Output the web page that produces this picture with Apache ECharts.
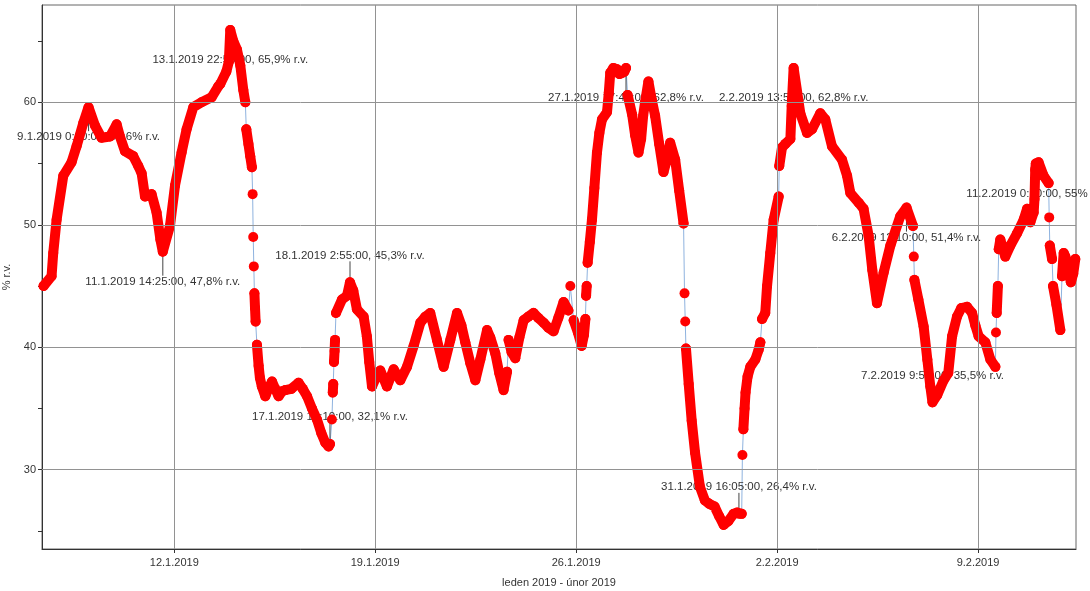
<!DOCTYPE html>
<html>
<head>
<meta charset="utf-8">
<title>Relativní vlhkost</title>
<script src="https://cdn.jsdelivr.net/npm/echarts@6/dist/echarts.min.js"></script>
<style>
  html, body { margin: 0; padding: 0; background: #fff; }
  #chart { width: 1090px; height: 591px; }
</style>
</head>
<body>
<div id="chart"></div>
<script>
// x hodnoty = hodiny od 12.1.2019 0:00
const xMin = -110.6;
const xMax = 753.9;
const yMin = 23.53;
const yMax = 67.94;

const xTickHours = [0, 168, 336, 504, 672];
const xTickLabels = ['12.1.2019', '19.1.2019', '26.1.2019', '2.2.2019', '9.2.2019'];
const yTickValues = [25, 30, 35, 40, 45, 50, 55, 60, 65];
const yLabelValues = [30, 40, 50, 60];

// souvislé úseky měření [hodina, % r.v.]
const segments = [
  [[-109.3, 45.0], [-102.6, 45.8], [-101.2, 47.7], [-98.4, 50.4], [-92.8, 54.0], [-85.9, 55.1], [-81.7, 56.4],
   [-76.1, 58.3], [-71.7, 59.6], [-66.3, 58.1], [-60.8, 57.1], [-53.8, 57.2], [-48.2, 58.2], [-45.4, 57.2],
   [-41.2, 56.0], [-34.3, 55.6], [-30.1, 54.8], [-27.3, 54.2], [-24.5, 52.3], [-19.0, 52.5], [-14.8, 51.0],
   [-11.6, 48.8], [-9.6, 47.8], [-3.6, 49.9], [0.6, 53.2], [6.1, 55.9], [10.3, 57.8], [15.9, 59.6],
   [22.8, 60.0], [31.2, 60.4], [36.8, 61.3], [38.5, 61.5], [43.5, 62.5], [45.6, 63.3], [46.8, 65.9],
   [49.3, 65.0], [52.4, 64.3], [55.2, 63.0], [57.7, 61.0], [59.4, 60.0]],
  [[60.2, 57.8], [62.0, 56.6], [63.5, 55.6], [64.9, 54.7]],
  [[65.5, 52.5]],
  [[66.0, 49.0]],
  [[66.5, 46.6]],
  [[67.0, 44.4], [67.5, 43.2], [68.0, 42.1]],
  [[69.1, 40.2], [70.5, 38.5], [71.6, 37.5], [73.2, 36.8], [76.1, 36.0], [78.6, 36.6], [81.7, 37.2],
   [84.4, 36.6], [87.2, 36.0], [90.1, 36.4], [92.8, 36.5], [97.8, 36.6], [103.9, 37.1], [107.4, 36.6],
   [111.0, 36.0], [115.1, 35.0], [119.3, 34.1], [122.9, 33.0], [126.3, 32.2], [129.0, 31.9], [130.2, 32.1]],
  [[131.8, 34.1]],
  [[132.5, 36.3], [132.9, 37.0]],
  [[133.5, 38.8], [134.0, 39.7], [134.4, 40.6]],
  [[135.2, 42.8], [140.2, 43.9], [144.4, 44.2], [146.9, 45.3], [149.7, 44.6], [152.7, 43.1], [158.3, 42.5],
   [161.0, 40.9], [163.0, 38.8], [165.3, 36.8], [168.9, 37.6], [172.2, 38.1], [177.8, 36.8], [183.4, 38.2],
   [189.0, 37.3], [194.6, 38.4], [200.1, 40.1], [205.7, 42.0], [209.9, 42.5], [214.0, 42.8], [219.6, 40.6],
   [225.2, 38.4], [230.8, 40.6], [236.4, 42.8], [240.0, 41.8], [243.3, 40.4], [247.5, 38.7], [251.7, 37.3],
   [255.9, 39.0], [261.5, 41.4], [264.2, 40.8], [268.4, 39.5], [271.7, 37.9], [275.3, 36.5], [278.2, 38.0]],
  [[279.5, 40.6], [282.0, 39.6], [285.1, 39.1], [288.5, 40.8], [292.1, 42.2], [296.0, 42.5], [300.4, 42.8],
   [304.3, 42.4], [308.8, 42.0], [312.7, 41.6], [317.1, 41.3], [321.1, 42.4], [325.5, 43.7], [329.5, 43.0]],
  [[331.1, 45.0]],
  [[333.9, 42.2], [337.5, 41.2], [340.6, 40.1], [342.5, 41.0], [343.7, 42.3]],
  [[344.3, 44.2], [344.8, 45.0]],
  [[345.6, 46.9], [347.4, 48.6], [349.2, 50.4], [351.2, 53.0], [353.4, 55.9], [355.4, 57.5], [357.6, 58.6],
   [361.8, 59.2], [363.3, 60.8], [364.5, 62.4], [367.1, 62.8], [370.2, 62.7], [372.1, 62.3], [374.4, 62.4],
   [376.3, 62.5], [377.7, 62.8]],
  [[379.0, 60.6], [382.8, 59.0], [385.3, 57.3], [388.1, 55.9], [390.3, 57.0], [392.0, 58.9], [393.6, 60.0],
   [396.4, 61.7], [399.2, 60.2], [402.0, 58.9], [405.4, 56.6], [409.0, 54.3], [411.8, 55.3], [414.6, 56.7],
   [418.8, 55.3], [422.1, 52.8], [425.8, 50.1]],
  [[426.6, 44.4]],
  [[427.2, 42.1]],
  [[427.8, 39.9], [430.1, 37.0], [432.6, 34.0], [435.4, 31.4], [439.5, 28.6], [443.6, 27.5], [447.5, 27.2],
   [451.7, 27.0], [455.6, 26.2], [459.3, 25.5], [463.2, 25.8], [467.6, 26.4], [470.5, 26.5], [472.1, 26.4],
   [474.4, 26.4]],
  [[475.0, 31.2]],
  [[475.8, 33.3], [476.8, 35.0], [477.6, 36.3], [479.3, 37.6], [481.6, 38.4], [485.8, 39.0], [488.6, 39.8],
   [490.0, 40.4]],
  [[491.4, 42.3], [494.1, 42.8], [495.6, 45.0], [498.3, 47.7], [501.1, 50.4], [505.3, 52.3]],
  [[505.8, 54.8], [508.1, 56.3], [510.9, 56.6], [515.1, 57.0], [516.2, 59.7], [517.8, 62.8], [523.4, 59.1],
   [529.0, 57.5], [533.2, 57.8], [540.1, 59.1], [544.3, 58.6], [549.9, 56.4], [558.3, 55.3], [562.5, 54.0],
   [565.2, 52.6], [572.2, 51.8], [576.3, 51.3], [580.5, 49.1], [583.6, 46.3], [587.5, 43.6], [593.1, 46.1],
   [598.7, 48.3], [607.0, 50.7], [612.2, 51.4], [617.6, 49.9]],
  [[618.3, 47.4]],
  [[618.8, 45.5], [622.1, 43.9], [626.5, 41.7], [629.6, 39.0], [632.1, 36.8], [633.9, 35.5], [637.9, 36.1],
   [643.2, 37.3], [647.1, 37.9], [650.3, 40.9], [654.4, 42.5], [658.0, 43.2], [662.8, 43.3], [667.0, 42.8],
   [669.7, 41.8], [672.5, 40.9], [678.1, 40.4], [682.3, 39.0], [686.5, 38.4]],
  [[687.0, 41.2]],
  [[687.6, 42.8], [688.6, 45.0]],
  [[689.3, 48.0], [690.6, 48.8], [694.8, 47.4], [699.0, 48.3], [704.6, 49.3], [710.1, 50.4], [713.0, 51.3],
   [715.7, 50.2], [718.5, 51.0], [719.2, 52.1], [719.8, 54.5], [720.3, 55.0], [722.6, 55.1], [726.8, 54.0],
   [731.0, 53.4]],
  [[731.5, 50.6]],
  [[732.0, 48.3], [733.9, 47.2]],
  [[734.7, 45.0], [737.5, 43.5], [740.8, 41.4]],
  [[742.2, 45.8], [743.6, 47.7], [745.0, 47.4], [747.5, 46.3], [749.6, 45.3], [751.6, 46.0], [753.3, 47.2]]
];

// popisky extrémů
const annotHours = [-71.67, -9.58, 46.83, 130.17, 146.92, 377.67, 472.08, 517.83, 612.17, 633.92, 720.33];
const annotValues = [59.6, 47.8, 65.9, 32.1, 45.3, 62.8, 26.4, 62.8, 51.4, 35.5, 55.0];
const annotTexts = [
  '9.1.2019 0:20:00, 59,6% r.v.',
  '11.1.2019 14:25:00, 47,8% r.v.',
  '13.1.2019 22:50:00, 65,9% r.v.',
  '17.1.2019 10:10:00, 32,1% r.v.',
  '18.1.2019 2:55:00, 45,3% r.v.',
  '27.1.2019 17:40:00, 62,8% r.v.',
  '31.1.2019 16:05:00, 26,4% r.v.',
  '2.2.2019 13:50:00, 62,8% r.v.',
  '6.2.2019 12:10:00, 51,4% r.v.',
  '7.2.2019 9:55:00, 35,5% r.v.',
  '11.2.2019 0:20:00, 55% r.v.'
];
// 1 = text pod bodem, -1 = text nad bodem
const annotSide = [1, 1, 1, -1, -1, 1, -1, 1, 1, -1, 1];

const FONT = '"Liberation Sans", Arial, sans-serif';

const allPoints = segments.flat();
const redData = [];
segments.forEach((seg, i) => {
  if (i > 0) redData.push([seg[0][0], null]);
  seg.forEach(p => redData.push(p));
});

const chart = echarts.init(document.getElementById('chart'), null, { renderer: 'canvas' });

const option = {
  animation: false,
  grid: {
    left: 42, right: 14, top: 5, bottom: 42,
    outerBoundsMode: 'none',
    containLabel: false,
    show: true, borderColor: '#666', borderWidth: 1, backgroundColor: '#fff'
  },
  xAxis: {
    type: 'value',
    min: xMin,
    max: xMax,
    name: 'leden 2019 - únor 2019',
    nameLocation: 'middle',
    nameGap: 28,
    nameTextStyle: { color: '#333', fontSize: 11, fontFamily: FONT },
    axisLine: { onZero: false, lineStyle: { color: '#333' } },
    axisTick: { customValues: xTickHours, length: 4, lineStyle: { color: '#333' } },
    axisLabel: {
      customValues: xTickHours,
      color: '#333', fontSize: 11, fontFamily: FONT, margin: 8,
      formatter: v => xTickLabels[xTickHours.indexOf(v)] || ''
    },
    splitLine: { show: false }
  },
  yAxis: {
    type: 'value',
    min: yMin,
    max: yMax,
    name: '% r.v.',
    nameLocation: 'middle',
    nameGap: 22,
    nameTextStyle: { color: '#333', fontSize: 11, fontFamily: FONT },
    axisLine: { show: true, onZero: false, lineStyle: { color: '#333' } },
    axisTick: { show: true, customValues: yTickValues, length: 4, lineStyle: { color: '#333' } },
    axisLabel: {
      customValues: yLabelValues,
      color: '#333', fontSize: 11, fontFamily: FONT, margin: 6
    },
    splitLine: { show: false }
  },
  series: [
    {
      name: 'spojnice',
      type: 'line',
      z: 1,
      data: allPoints,
      showSymbol: false,
      lineStyle: { color: '#8fb3df', width: 1 },
      silent: true,
      markLine: {
        silent: true,
        symbol: ['none', 'none'],
        label: { show: false },
        lineStyle: { color: '#929292', width: 1, type: 'solid' },
        data: xTickHours.map(h => ({ xAxis: h }))
          .concat(yLabelValues.map(v => ({ yAxis: v })))
      }
    },
    {
      name: 'popisky',
      type: 'custom',
      z: 2,
      clip: false,
      silent: true,
      encode: { x: 0, y: 1 },
      data: annotHours.map((h, i) => [h, annotValues[i]]),
      renderItem: (params, api) => {
        const i = params.dataIndex;
        const p = api.coord([api.value(0), api.value(1)]);
        const side = annotSide[i];
        const lineEnd = side > 0 ? p[1] + 24 : p[1] - 21;
        const textY = side > 0 ? p[1] + 30 : p[1] - 27;
        return {
          type: 'group',
          children: [
            {
              type: 'line',
              shape: { x1: p[0], y1: p[1], x2: p[0], y2: lineEnd },
              style: { stroke: '#444', lineWidth: 1 }
            },
            {
              type: 'text',
              x: p[0],
              y: textY,
              style: {
                text: annotTexts[i],
                fill: '#333',
                font: '11.5px ' + FONT,
                align: 'center',
                verticalAlign: 'middle'
              }
            }
          ]
        };
      }
    },
    {
      name: '% r.v.',
      type: 'line',
      z: 3,
      data: redData,
      connectNulls: false,
      showSymbol: true,
      symbol: 'circle',
      symbolSize: 10,
      itemStyle: { color: '#ff0000' },
      lineStyle: { color: '#ff0000', width: 10, cap: 'round', join: 'round' },
      silent: true
    }
  ]
};

chart.setOption(option);
</script>
</body>
</html>
